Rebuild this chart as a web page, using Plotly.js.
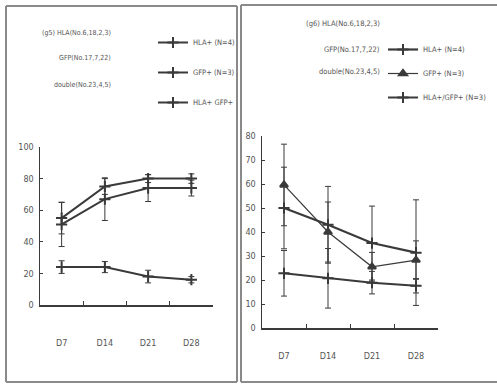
<!DOCTYPE html>
<html>
<head>
<meta charset="utf-8">
<script src="https://cdn.plot.ly/plotly-3.0.1.min.js"></script>
<style>
html,body{margin:0;padding:0;background:#fff;width:497px;height:389px;overflow:hidden;}
#chart{width:497px;height:389px;overflow:hidden;position:relative;}
</style>
</head>
<body>
<div id="chart"></div>
<script>
// ---- data ----
var days = ["D7", "D14", "D21", "D28"];

// panel (g5)
var g5Names = ["HLA+ (N=4)", "GFP+ (N=3)", "HLA+ GFP+"];
var g5HLA = [55, 75, 80, 80];
var g5HLAerr = [10, 5, 2.5, 3];
var g5GFP = [51, 67, 74, 74];
var g5GFPerr = [14, 13.5, 8.5, 5];
var g5Double = [24, 24, 18, 16];
var g5DoubleErr = [4, 3.5, 4, 2];
var g5Notes = ["(g5) HLA(No.6,18,2,3)", "GFP(No.17,7,22)", "double(No.23,4,5)"];

// panel (g6)
var g6Names = ["HLA+ (N=4)", "GFP+ (N=3)", "HLA+/GFP+ (N=3)"];
var g6HLA = [50, 43, 35.4, 31.4];
var g6HLAerr = [17, 16, 15.4, 22];
var g6GFP = [59.6, 40, 25.5, 28.3];
var g6GFPerr = [17, 12.5, 6, 8];
var g6Double = [22.8, 20.7, 18.9, 17.6];
var g6DoubleErr = [9.5, 12.4, 4.7, 3];
var g6Notes = ["(g6) HLA(No.6,18,2,3)", "GFP(No.17,7,22)", "double(No.23,4,5)"];

var yTicksG5 = [0, 20, 40, 60, 80, 100];
var yTicksG6 = [0, 10, 20, 30, 40, 50, 60, 70, 80];

// ---- styling ----
var FONT = "DejaVu Sans Condensed, Liberation Sans Narrow, Arial Narrow, sans-serif";
var INK = "#3a3a3a";
var TXT = "#555";
var W = 497, H = 389;
function px(x) { return x / W; }
function py(y) { return 1 - y / H; }

function tr(y, err, name, ax, lg, grp, opts) {
  opts = opts || {};
  return {
    type: "scatter", mode: "lines+markers",
    x: days, y: y, name: name,
    xaxis: ax.x, yaxis: ax.y, legend: lg, legendgroup: grp,
    line: { color: INK, width: opts.lw || 2 },
    marker: { symbol: opts.symbol || "cross-thin", size: opts.size || 8, color: INK,
              line: { color: INK, width: 2 } },
    error_y: { type: "data", array: err, visible: true, color: INK, thickness: 1, width: 3 }
  };
}

var A1 = { x: "x", y: "y" }, A2 = { x: "x2", y: "y2" };
var data = [
  tr(g5HLA, g5HLAerr, g5Names[0], A1, "legend", "a1"),
  tr(g5GFP, g5GFPerr, g5Names[1], A1, "legend", "a2"),
  tr(g5Double, g5DoubleErr, g5Names[2], A1, "legend", "a3"),
  tr(g6HLA, g6HLAerr, g6Names[0], A2, "legend2", "b1", { lw: 2.2 }),
  tr(g6GFP, g6GFPerr, g6Names[1], A2, "legend2", "b2", { lw: 1.2, symbol: "triangle-up", size: 7 }),
  tr(g6Double, g6DoubleErr, g6Names[2], A2, "legend2", "b3", { lw: 2 })
];

function xAxis(domain, standoff, anchor) {
  return {
    domain: domain, anchor: anchor, type: "category", range: [-0.5, 3.5],
    showline: true, linecolor: INK, linewidth: 1.5, showgrid: false, zeroline: false,
    ticks: "inside", ticklen: 4, tickcolor: INK, tickson: "boundaries",
    ticklabelstandoff: standoff,
    tickfont: { family: FONT, size: 9, color: TXT }, fixedrange: true
  };
}
function yAxis(domain, range, vals, anchor) {
  return {
    domain: domain, anchor: anchor, range: range, tickvals: vals,
    showline: true, linecolor: INK, linewidth: 1.5, showgrid: false, zeroline: false,
    ticks: "inside", ticklen: 3, tickcolor: INK, ticklabelstandoff: 3,
    tickfont: { family: FONT, size: 9, color: TXT }, fixedrange: true
  };
}

var layoutAxes = {
  xaxis: xAxis([px(40), px(213)], 29, "y"),
  yaxis: yAxis([py(305), py(147)], [0, 100], yTicksG5, "x"),
  xaxis2: xAxis([px(262), px(438)], 19, "y2"),
  yaxis2: yAxis([py(328), py(136)], [0, 80], yTicksG6, "x2")
};

var annotations = [];
var g5Y = [33, 58, 85], g6Y = [24, 49, 71];
g5Notes.forEach(function (t, i) {
  annotations.push({ xref: "paper", yref: "paper", x: px(113), y: py(g5Y[i]), xanchor: "right", yanchor: "middle",
    text: t, showarrow: false, font: { family: FONT, size: 7, color: TXT } });
});
g6Notes.forEach(function (t, i) {
  annotations.push({ xref: "paper", yref: "paper", x: px(382), y: py(g6Y[i]), xanchor: "right", yanchor: "middle",
    text: t, showarrow: false, font: { family: FONT, size: 7.5, color: TXT } });
});

var frame = { color: "#8a8a8a", width: 2 };
function ln(x0, y0, x1, y1) {
  return { type: "line", xref: "paper", yref: "paper", x0: px(x0), y0: py(y0), x1: px(x1), y1: py(y1), line: frame };
}
var shapes = [
  ln(6, 6, 237, 6), ln(6, 6, 6, 382), ln(6, 382, 237, 382), ln(237, 6, 237, 382),
  ln(241, 5, 497, 5), ln(241, 5, 241, 382), ln(241, 382, 497, 382)
];

var layout = {
  width: W, height: H, margin: { l: 0, r: 0, t: 0, b: 0 },
  paper_bgcolor: "#fff", plot_bgcolor: "rgba(0,0,0,0)",
  showlegend: true,
  xaxis: layoutAxes.xaxis, yaxis: layoutAxes.yaxis, xaxis2: layoutAxes.xaxis2, yaxis2: layoutAxes.yaxis2,
  legend: { x: px(153), y: py(28), xanchor: "left", yanchor: "top", bgcolor: "rgba(0,0,0,0)",
            font: { family: FONT, size: 7.5, color: TXT }, tracegroupgap: 11, itemwidth: 30 },
  legend2: { x: px(383), y: py(35), xanchor: "left", yanchor: "top", bgcolor: "rgba(0,0,0,0)",
             font: { family: FONT, size: 7.5, color: TXT }, tracegroupgap: 5, itemwidth: 30 },
  annotations: annotations, shapes: shapes
};

Plotly.newPlot("chart", data, layout, { displayModeBar: false, staticPlot: true });
</script>
</body>
</html>
